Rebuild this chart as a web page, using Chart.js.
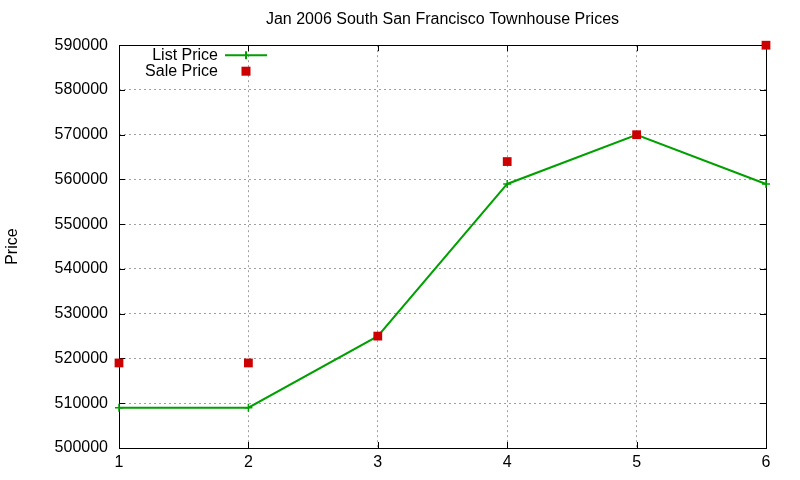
<!DOCTYPE html>
<html>
<head>
<meta charset="utf-8">
<script src="https://cdn.jsdelivr.net/npm/chart.js@4/dist/chart.umd.min.js"></script>
<style>
  html, body { margin: 0; padding: 0; background: #fff; }
  #c { display: block; }
</style>
</head>
<body>
<canvas id="c" width="800" height="480"></canvas>
<script>
const months = [1, 2, 3, 4, 5, 6];
const listPrice = [509000, 509000, 525000, 559000, 570000, 559000];
const salePrice = [519000, 519000, 525000, 564000, 570000, 590000];
const yMin = 500000, yMax = 590000, yStep = 10000;

const FONT = 'Liberation Sans, Arial, sans-serif';
const GREEN = '#00a000';
const RED = '#cc0000';

// gnuplot-like frame, inward ticks and legend inside the plot
const gnuFrame = {
  id: 'gnuFrame',
  beforeDatasetsDraw(chart) {
    const { ctx, chartArea: a, scales: { x, y } } = chart;
    ctx.save();
    ctx.strokeStyle = '#000';
    ctx.lineWidth = 1;
    ctx.beginPath();
    y.ticks.forEach(t => {
      const py = Math.round(y.getPixelForValue(t.value)) + 0.5;
      ctx.moveTo(a.left, py); ctx.lineTo(a.left + 6, py);
      ctx.moveTo(a.right, py); ctx.lineTo(a.right - 6, py);
    });
    x.ticks.forEach(t => {
      const px = Math.round(x.getPixelForValue(t.value)) + 0.5;
      ctx.moveTo(px, a.bottom); ctx.lineTo(px, a.bottom - 6);
      ctx.moveTo(px, a.top); ctx.lineTo(px, a.top + 6);
    });
    ctx.stroke();
    ctx.strokeRect(Math.round(a.left) + 0.5, Math.round(a.top) + 0.5,
      Math.round(a.right - a.left), Math.round(a.bottom - a.top));
    ctx.restore();
  },
  afterDraw(chart) {
    const { ctx, chartArea: a } = chart;
    const textRight = a.left + 99;
    const sampleL = a.left + 106, sampleR = a.left + 148;
    const mid = (sampleL + sampleR) / 2;
    const rows = [
      { label: chart.data.datasets[0].label, y: a.top + 10 },
      { label: chart.data.datasets[1].label, y: a.top + 26 }
    ];
    ctx.save();
    ctx.font = '16px ' + FONT;
    ctx.fillStyle = '#000';
    ctx.textAlign = 'right';
    ctx.textBaseline = 'middle';
    rows.forEach(r => ctx.fillText(r.label, textRight, r.y));
    // list price sample: line + cross
    ctx.strokeStyle = GREEN;
    ctx.lineWidth = 2;
    ctx.beginPath();
    ctx.moveTo(sampleL, rows[0].y); ctx.lineTo(sampleR, rows[0].y);
    ctx.moveTo(mid, rows[0].y - 4); ctx.lineTo(mid, rows[0].y + 4);
    ctx.stroke();
    // sale price sample: square
    ctx.fillStyle = RED;
    ctx.fillRect(mid - 4.5, rows[1].y - 4.5, 9, 9);
    ctx.restore();
  }
};

new Chart(document.getElementById('c'), {
  type: 'line',
  data: {
    labels: months,
    datasets: [{
      label: 'List Price',
      data: listPrice,
      order: 2,
      borderColor: GREEN,
      backgroundColor: GREEN,
      borderWidth: 2,
      pointStyle: 'cross',
      pointRadius: 4,
      pointBorderWidth: 1.5,
      tension: 0,
      fill: false,
      clip: false
    }, {
      label: 'Sale Price',
      data: salePrice,
      order: 1,
      showLine: false,
      borderColor: RED,
      backgroundColor: RED,
      pointStyle: 'rect',
      pointRadius: 6.2,
      pointBorderWidth: 0,
      clip: false
    }]
  },
  options: {
    responsive: false,
    animation: false,
    layout: { padding: { left: 0, right: 34, top: 0, bottom: 0 } },
    plugins: {
      legend: { display: false },
      tooltip: { enabled: false },
      title: {
        display: true,
        fullSize: false,
        text: 'Jan 2006 South San Francisco Townhouse Prices',
        color: '#000',
        font: { family: FONT, size: 16, weight: 'normal' },
        padding: { top: 10, bottom: 16 }
      }
    },
    scales: {
      x: {
        type: 'linear',
        min: 1,
        max: 6,
        afterFit(scale) { scale.height = 32; },
        ticks: {
          stepSize: 1,
          color: '#000',
          padding: 5,
          font: { family: FONT, size: 16 }
        },
        grid: {
          color: '#a0a0a0',
          lineWidth: 1,
          drawTicks: false
        },
        border: { display: false, dash: [2, 3] }
      },
      y: {
        min: yMin,
        max: yMax,
        afterFit(scale) { scale.width = 119; },
        ticks: {
          stepSize: yStep,
          color: '#000',
          padding: 11,
          font: { family: FONT, size: 16 },
          callback: v => String(v)
        },
        title: {
          display: true,
          text: 'Price',
          color: '#000',
          font: { family: FONT, size: 16 },
          padding: { top: 3, bottom: 0 }
        },
        grid: {
          color: '#a0a0a0',
          lineWidth: 1,
          drawTicks: false
        },
        border: { display: false, dash: [2, 3] }
      }
    }
  },
  plugins: [gnuFrame]
});
</script>
</body>
</html>
